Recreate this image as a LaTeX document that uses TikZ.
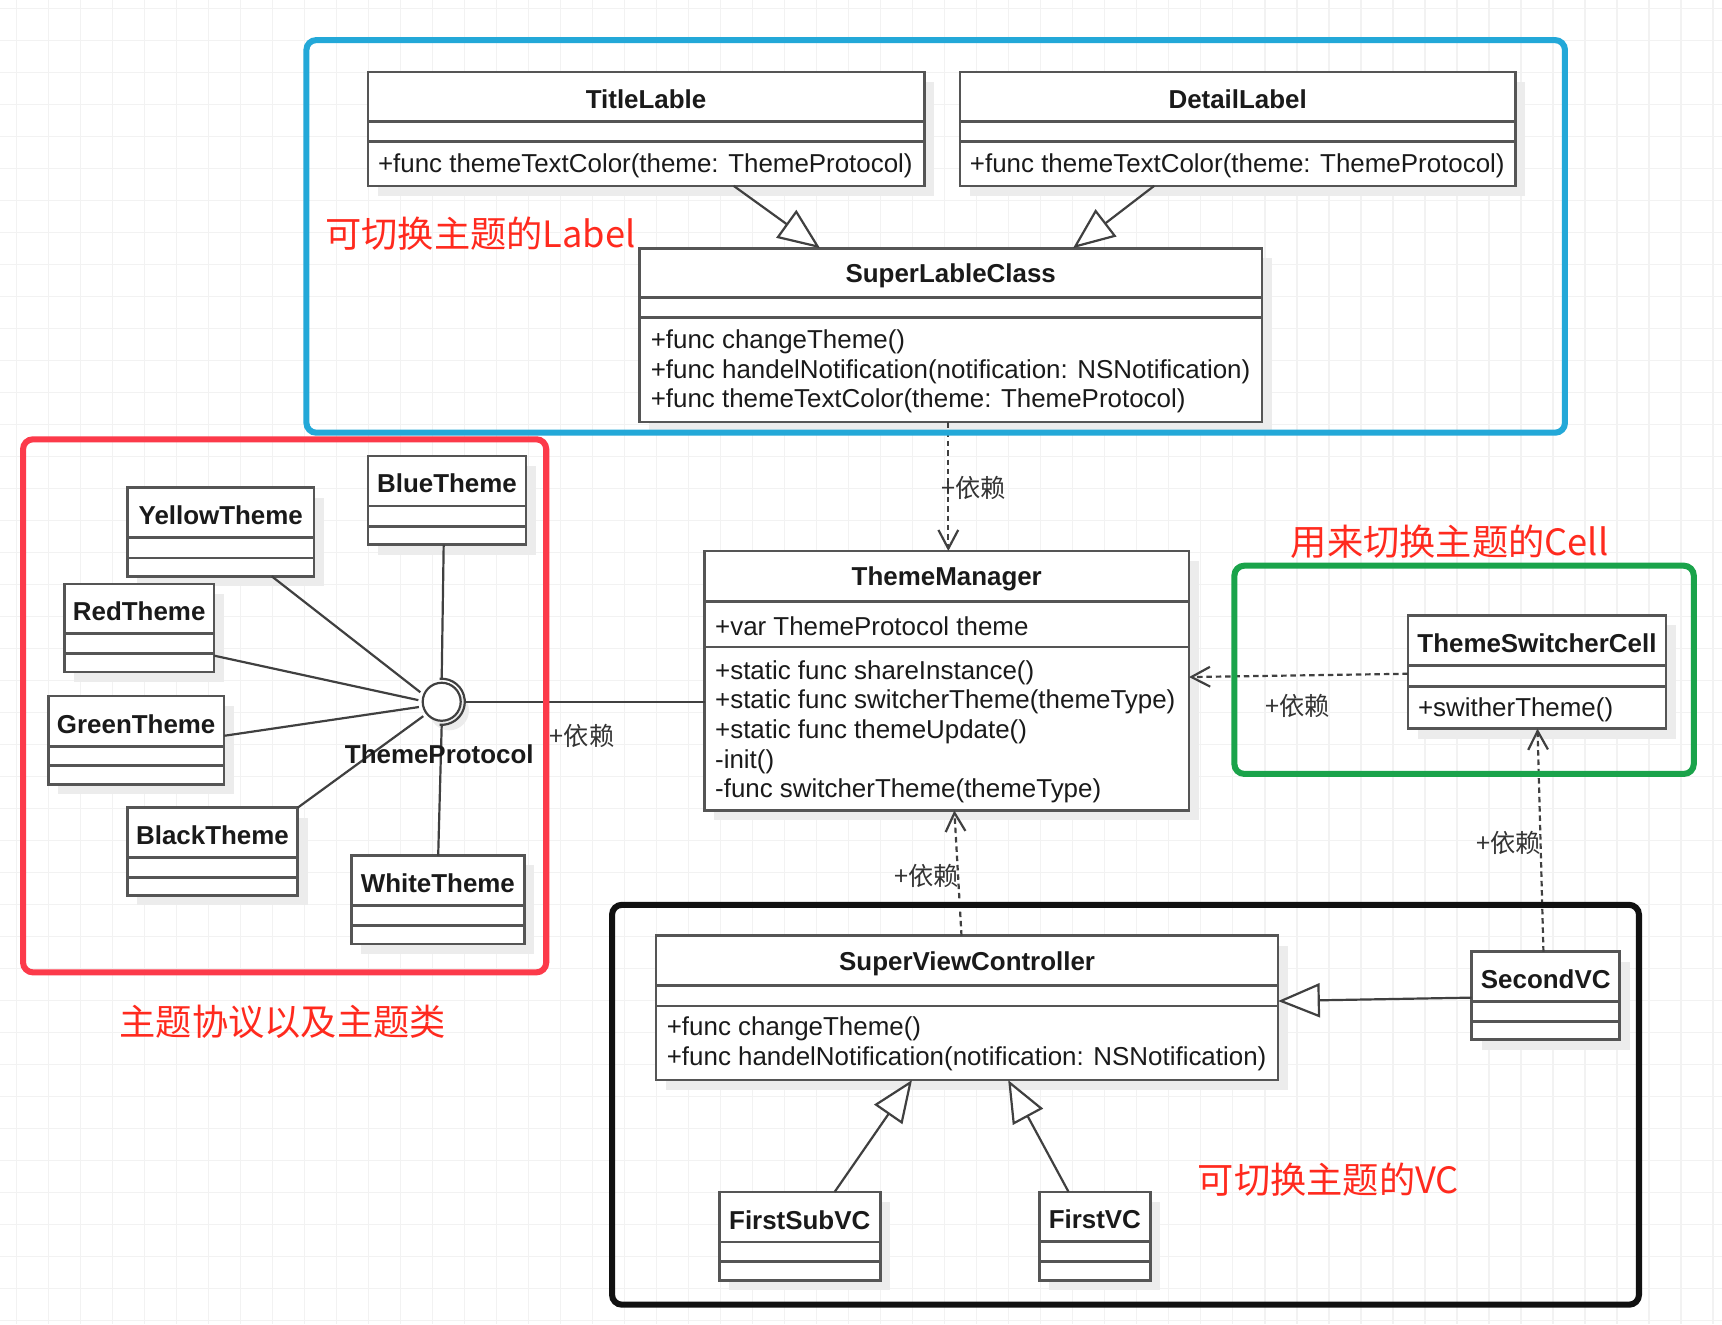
\documentclass[tikz,border=0pt]{standalone}
\usepackage{fontspec}
\setmainfont{Liberation Sans}
\newfontfamily\cjk{Noto Sans CJK SC}
\usetikzlibrary{arrows.meta,calc}
\definecolor{gridc}{RGB}{242,242,242}
\definecolor{clsc}{RGB}{85,85,85}
\definecolor{linec}{RGB}{64,64,64}
\definecolor{txtc}{RGB}{26,26,26}
\definecolor{shadc}{RGB}{236,236,236}
\definecolor{bluec}{RGB}{35,168,216}
\definecolor{redbox}{RGB}{252,58,74}
\definecolor{greenc}{RGB}{26,163,74}
\definecolor{blackc}{RGB}{17,17,17}
\definecolor{redtxt}{RGB}{255,42,30}
\definecolor{deptxt}{RGB}{51,51,51}
\tikzset{
  clsbox/.style={draw=clsc, line width=2.4pt, fill=white, inner sep=0pt, outer sep=0pt, rectangle},
  clsline/.style={draw=clsc, line width=2.4pt},
  ctitle/.style={font=\fontsize{23.6}{28}\selectfont\bfseries, text=txtc, inner sep=0pt, yshift=-2.5pt},
  mtext/.style={font=\fontsize{23.6}{28}\selectfont, text=txtc, inner sep=0pt, anchor=west, yshift=-2pt},
  groupbox/.style={line width=5.5pt, rounded corners=9pt},
  gen/.style={draw=linec, line width=2pt, -{Triangle[open, fill=white, length=38pt, width=31pt, line width=2pt]}},
  dep/.style={draw=linec, line width=2pt, dash pattern=on 5pt off 3.5pt, -{Straight Barb[length=17pt, width=18pt, line width=2pt]}},
  assoc/.style={draw=linec, line width=2pt},
  deplabel/.style={font=\cjk\fontsize{23}{27}\selectfont, text=deptxt, inner sep=0pt},
  redlabel/.style={font=\cjk\fontsize{33}{38}\selectfont, text=redtxt, inner sep=0pt},
  gridline/.style={draw=gridc, line width=1.3pt},
}
\newcommand\UClass[8]{%
  \pgfmathsetmacro\ucw{#4-#2}%
  \pgfmathsetmacro\uch{#5-#3}%
  \fill[shadc] ({#2+9},{#3+9}) rectangle ({#4+9},{#5+9});
  \node[clsbox, anchor=north west, minimum width=\ucw pt, minimum height=\uch pt] (#1) at (#2,#3) {};
  \draw[clsline] (#2,#6) -- (#4,#6) (#2,#7) -- (#4,#7);
  \node[ctitle] (#1-t) at ({(#2+#4)/2},{(#3+#6)/2}) {#8};
}
\begin{document}
\begin{tikzpicture}[x=1pt,y=-1pt]
\useasboundingbox (0,0) rectangle (1568,1205.6);
\fill[white] (0,0) rectangle (1568,1205.6);
\foreach \i in {0,...,53} {\draw[gridline] ({15.2+29.14*\i},0) -- ({15.2+29.14*\i},1205.6);}
\foreach \i in {0,...,41} {\draw[gridline] (0,{7.6+29.14*\i}) -- (1568,{7.6+29.14*\i});}

% classes
\UClass{TitleLable}{335}{65.4}{841.6}{169.2}{110.7}{128.8}{TitleLable}
\node[mtext] (TitleLable-m1) at (344,149) {+func themeTextColor(theme: ThemeProtocol)};
\UClass{DetailLabel}{874}{65.4}{1380}{169.2}{110.7}{128.8}{DetailLabel}
\node[mtext] (DetailLabel-m1) at (883,149) {+func themeTextColor(theme: ThemeProtocol)};
\UClass{SuperLableClass}{582.4}{226}{1149}{384.4}{271}{289}{SuperLableClass}
\node[mtext] (SuperLableClass-m1) at (592.4,309.4) {+func changeTheme()};
\node[mtext] (SuperLableClass-m2) at (592.4,336.4) {+func handelNotification(notification: NSNotification)};
\node[mtext] (SuperLableClass-m3) at (592.4,363.2) {+func themeTextColor(theme: ThemeProtocol)};
\UClass{ThemeManager}{641.5}{501.7}{1082.7}{738}{547.8}{589}{ThemeManager}
\node[mtext] (ThemeManager-a1) at (651,568) {+var ThemeProtocol theme};
\node[mtext] (ThemeManager-m1) at (651,610.5) {+static func shareInstance()};
\node[mtext] (ThemeManager-m2) at (651,637.4) {+static func switcherTheme(themeType)};
\node[mtext] (ThemeManager-m3) at (651,664.3) {+static func themeUpdate()};
\node[mtext] (ThemeManager-m4) at (651,691.5) {-init()};
\node[mtext] (ThemeManager-m5) at (651,718.2) {-func switcherTheme(themeType)};
\UClass{ThemeSwitcherCell}{1282}{560.5}{1517}{663.5}{606}{625}{ThemeSwitcherCell}
\node[mtext] (ThemeSwitcherCell-m1) at (1291,644.3) {+switherTheme()};
\UClass{SuperViewController}{597.4}{852}{1163.8}{983.5}{897.6}{916}{SuperViewController}
\node[mtext] (SuperViewController-m1) at (607,935) {+func changeTheme()};
\node[mtext] (SuperViewController-m2) at (607,962.2) {+func handelNotification(notification: NSNotification)};
\UClass{SecondVC}{1340}{866.5}{1474.9}{946.8}{912.2}{930.3}{SecondVC}
\UClass{FirstSubVC}{654.9}{1085.3}{801.5}{1166}{1131}{1148.7}{FirstSubVC}
\UClass{FirstVC}{946.5}{1085.3}{1047.4}{1166}{1130.5}{1148.7}{FirstVC}
\UClass{BlueTheme}{335}{415.2}{479}{496}{460.6}{479.4}{BlueTheme}
\UClass{YellowTheme}{116}{444}{286}{524.8}{489.4}{508}{YellowTheme}
\UClass{RedTheme}{58.5}{531.7}{195}{612}{576.7}{595}{RedTheme}
\UClass{GreenTheme}{44}{633.6}{204}{714.3}{679.6}{697}{GreenTheme}
\UClass{BlackTheme}{116}{735.5}{271}{815.4}{780.8}{798.9}{BlackTheme}
\UClass{WhiteTheme}{320}{779}{477.4}{859.6}{824.6}{843}{WhiteTheme}

% lollipop interface
\fill[shadc] (409,647) circle (18);
\node[circle, draw=linec, line width=2pt, fill=white, minimum size=34.6pt, inner sep=0pt, outer sep=4pt] (tp) at (402.2,639) {};
\draw[assoc] (402.2,639) ++(-95:21) arc[start angle=-95, end angle=95, radius=21];
\draw[assoc] ([xshift=69pt]BlueTheme.south west) -- (tp.north);
\draw[assoc] ([xshift=131.5pt]YellowTheme.south west) -- (tp.156);
\draw[assoc] ([yshift=-65.3pt]RedTheme.north east) -- (tp.176);
\draw[assoc] ([yshift=-36.4pt]GreenTheme.north east) -- (tp.193);
\draw[assoc] (BlackTheme.north east) -- (tp.218);
\draw[assoc] ([xshift=79pt]WhiteTheme.north west) -- (tp.south);
\draw[assoc] (tp.east) -- (tp.east -| ThemeManager.west);
\node[ctitle] (tplabel) at (400,684) {ThemeProtocol};

% generalizations
\draw[gen] ([xshift=333pt]TitleLable.south west) -- ([xshift=164.3pt]SuperLableClass.north west);
\draw[gen] ([xshift=177pt]DetailLabel.south west) -- ([xshift=394.6pt]SuperLableClass.north west);
\draw[gen] ([yshift=-41.9pt]SecondVC.north west) -- ([yshift=-59.5pt]SuperViewController.north east);
\draw[gen] ([xshift=105.1pt]FirstSubVC.north west) -- ([xshift=233pt]SuperViewController.south west);
\draw[gen] ([xshift=26.5pt]FirstVC.north west) -- ([xshift=320.6pt]SuperViewController.south west);

% dependencies
\draw[dep] ([xshift=281.1pt]SuperLableClass.south west) -- ([xshift=222pt]ThemeManager.north west);
\draw[dep] ([yshift=-53pt]ThemeSwitcherCell.north west) -- ([yshift=-114.8pt]ThemeManager.north east);
\draw[dep] ([xshift=278.1pt]SuperViewController.north west) -- ([xshift=227.5pt]ThemeManager.south west);
\draw[dep] ([xshift=65.4pt]SecondVC.north west) -- ([xshift=118pt]ThemeSwitcherCell.south west);

\node[deplabel] (d1) at (530,670) {+依赖};
\node[deplabel, anchor=west] (d2) at (857,444) {+依赖};
\node[deplabel] (d3) at (1181.5,643) {+依赖};
\node[deplabel] (d4) at (844,798) {+依赖};
\node[deplabel] (d5) at (1374,767.5) {+依赖};

% group frames
\draw[groupbox, draw=bluec] (279,36.5) rectangle (1425,394);
\draw[groupbox, draw=redbox] (21,400) rectangle (497.4,885.4);
\draw[groupbox, draw=greenc] (1124,515.1) rectangle (1542.3,704.7);
\draw[groupbox, draw=blackc] (557.3,823.9) rectangle (1492.4,1188);

% red captions
\node[redlabel] (lab1) at (437.5,212.5) {可切换主题的Label};
\node[redlabel] (lab2) at (1320,493) {用来切换主题的Cell};
\node[redlabel] (lab3) at (257.5,930.5) {主题协议以及主题类};
\node[redlabel] (lab4) at (1209.5,1074) {可切换主题的VC};
\end{tikzpicture}
\end{document}
